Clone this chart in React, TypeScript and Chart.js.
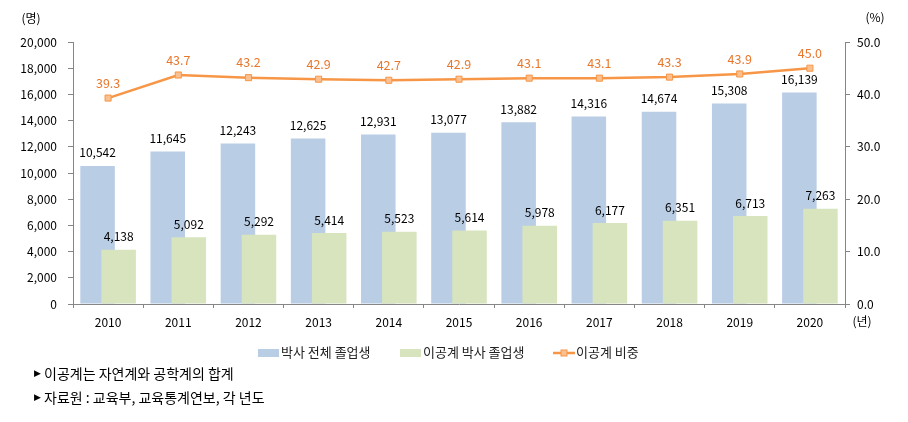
import React, { useEffect, useRef } from "react";
import { Chart, registerables } from "chart.js";

Chart.register(...registerables);

const years = ["2010", "2011", "2012", "2013", "2014", "2015", "2016", "2017", "2018", "2019", "2020"];
const totalGrads = [10542, 11645, 12243, 12625, 12931, 13077, 13882, 14316, 14674, 15308, 16139];
const stemGrads = [4138, 5092, 5292, 5414, 5523, 5614, 5978, 6177, 6351, 6713, 7263];
const stemShare = [39.3, 43.7, 43.2, 42.9, 42.7, 42.9, 43.1, 43.1, 43.3, 43.9, 45.0];
const seriesNames = ["박사 전체 졸업생", "이공계 박사 졸업생", "이공계 비중"];
const notes = ["이공계는 자연계와 공학계의 합계", "자료원 : 교육부, 교육통계연보, 각 년도"];
const leftMax = 20000;
const leftStep = 2000;
const rightMax = 50;
const rightStep = 10;

const FONT = "'Noto Sans CJK KR', 'Noto Sans', sans-serif";
const BLUE = "#B9CDE5";
const GREEN = "#D7E4BD";
const ORANGE = "#F79646";
const ORANGE_TEXT = "#E8772E";
const ORANGE_FILL = "#FAC090";
const AXIS = "#868686";

const annotatePlugin = {
  id: "annotate",
  beforeDatasetsDraw(chart: any) {
    // draw the total-graduates bars first so the STEM bars overlap them
    const meta = chart.getDatasetMeta(0);
    if (meta && meta.controller) meta.controller.draw();
  },
  beforeDatasetDraw(chart: any, args: any) {
    if (args.index === 0) return false;
    return true;
  },
  afterDraw(chart: any) {
    const ctx = chart.ctx;
    const area = chart.chartArea;
    ctx.save();
    ctx.textAlign = "center";
    ctx.textBaseline = "middle";
    // bar labels
    [0, 1].forEach((di) => {
      const meta = chart.getDatasetMeta(di);
      const ds = chart.data.datasets[di];
      ctx.font = `12px ${FONT}`;
      ctx.fillStyle = "#000";
      meta.data.forEach((el: any, i: number) => {
        ctx.fillText(Number(ds.data[i]).toLocaleString("en-US"), el.x, el.y - 13);
      });
    });
    // line labels
    {
      const meta = chart.getDatasetMeta(2);
      const ds = chart.data.datasets[2];
      ctx.font = `12.5px ${FONT}`;
      ctx.fillStyle = ORANGE_TEXT;
      meta.data.forEach((el: any, i: number) => {
        ctx.fillText(Number(ds.data[i]).toFixed(1), el.x, el.y - 15);
      });
    }
    // unit labels
    ctx.fillStyle = "#000";
    ctx.font = `12px ${FONT}`;
    ctx.fillText("(명)", area.left - 42, area.top - 24);
    ctx.fillText("(%)", area.right + 30, area.top - 25);
    ctx.fillText("(년)", area.right + 17, area.bottom + 17);

    // legend
    const ly = area.bottom + 49;
    ctx.font = `13px ${FONT}`;
    ctx.textAlign = "left";
    const items = [
      { x: 258, color: BLUE, kind: "bar" },
      { x: 400, color: GREEN, kind: "bar" },
      { x: 553, color: ORANGE, kind: "line" },
    ];
    items.forEach((it, i) => {
      if (it.kind === "bar") {
        ctx.fillStyle = it.color;
        ctx.fillRect(it.x, ly - 4, 21, 8);
      } else {
        ctx.strokeStyle = ORANGE;
        ctx.lineWidth = 2.5;
        ctx.beginPath();
        ctx.moveTo(it.x, ly);
        ctx.lineTo(it.x + 22, ly);
        ctx.stroke();
        ctx.fillStyle = ORANGE_FILL;
        ctx.fillRect(it.x + 8, ly - 3, 6, 6);
        ctx.lineWidth = 1;
        ctx.strokeRect(it.x + 8, ly - 3, 6, 6);
      }
      ctx.fillStyle = "#222";
      ctx.fillText(chart.data.datasets[i].label, it.x + 23, ly - 1);
    });

    // notes
    ctx.fillStyle = "#000";
    notes.forEach((n, i) => {
      const y = area.bottom + 70 + i * 24;
      ctx.font = `9px 'DejaVu Sans', sans-serif`;
      ctx.fillText("▶", 34, y);
      ctx.font = `14px ${FONT}`;
      ctx.fillText(n, 44, y);
    });
    ctx.restore();
  },
};

export default function App() {
  const ref = useRef<HTMLCanvasElement | null>(null);
  useEffect(() => {
    if (!ref.current) return;
    Chart.defaults.font.family = FONT;
    Chart.defaults.font.size = 12;
    Chart.defaults.color = "#000";
    const chart = new Chart(ref.current, {
      type: "bar",
      data: {
        labels: years,
        datasets: [
          {
            type: "bar",
            label: seriesNames[0],
            data: totalGrads,
            backgroundColor: BLUE,
            yAxisID: "y",
            order: 1,
            categoryPercentage: 0.6,
            barPercentage: 1.64,
          },
          {
            type: "bar",
            label: seriesNames[1],
            data: stemGrads,
            backgroundColor: GREEN,
            yAxisID: "y",
            order: 2,
            categoryPercentage: 0.6,
            barPercentage: 1.64,
          },
          {
            type: "line",
            label: seriesNames[2],
            data: stemShare,
            borderColor: ORANGE,
            borderWidth: 2.5,
            backgroundColor: ORANGE_FILL,
            pointStyle: "rect",
            pointRadius: 4.3,
            pointBorderWidth: 1,
            pointBorderColor: ORANGE,
            pointBackgroundColor: ORANGE_FILL,
            yAxisID: "y1",
            order: 0,
            tension: 0,
          },
        ],
      } as any,
      options: {
        responsive: false,
        animation: false,
        layout: { padding: { top: 42, bottom: 88, left: 0, right: 0 } },
        plugins: { legend: { display: false }, tooltip: { enabled: false } },
        scales: {
          x: {
            grid: { drawOnChartArea: false, drawTicks: true, tickLength: 4, color: AXIS, offset: true },
            border: { color: AXIS, width: 1 },
            ticks: { padding: 7, font: { size: 12 }, color: "#000", maxRotation: 0 },
            afterFit: (s: any) => {
              s.height = 30;
            },
          },
          y: {
            position: "left",
            min: 0,
            max: leftMax,
            ticks: {
              stepSize: leftStep,
              padding: 11,
              color: "#000",
              callback: (v: any) => Number(v).toLocaleString("en-US"),
            },
            grid: { drawOnChartArea: false, drawTicks: true, tickLength: 5, color: AXIS },
            border: { color: AXIS, width: 1 },
            afterFit: (s: any) => {
              s.width = 73;
            },
          },
          y1: {
            position: "right",
            min: 0,
            max: rightMax,
            ticks: {
              stepSize: rightStep,
              padding: 7,
              color: "#000",
              callback: (v: any) => Number(v).toFixed(1),
            },
            grid: { drawOnChartArea: false, drawTicks: true, tickLength: 5, color: AXIS },
            border: { color: AXIS, width: 1 },
            afterFit: (s: any) => {
              s.width = 63;
            },
          },
        },
      } as any,
      plugins: [annotatePlugin],
    });
    return () => chart.destroy();
  }, []);
  return (
    <div style={{ position: "absolute", left: 0, top: 0, width: 908, height: 422, background: "#fff" }}>
      <canvas ref={ref} width={908} height={422} style={{ display: "block" }} />
    </div>
  );
}
